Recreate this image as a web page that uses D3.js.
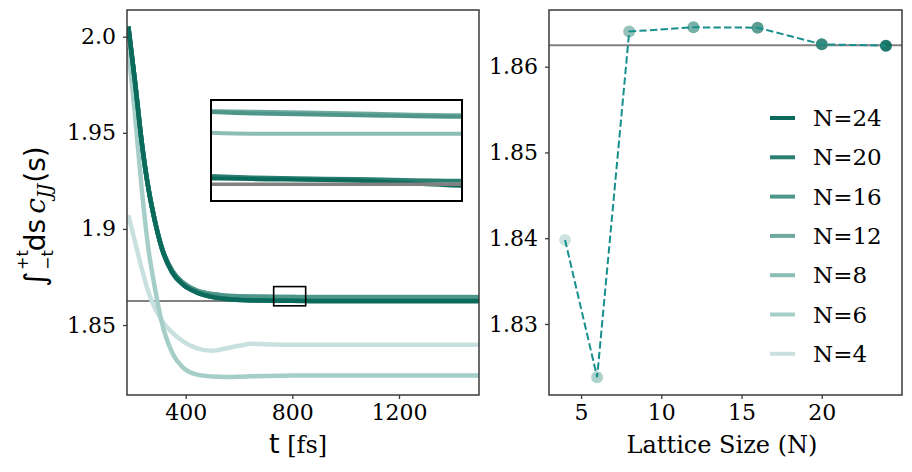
<!DOCTYPE html>
<html>
<head>
<meta charset="utf-8">
<script src="https://cdn.jsdelivr.net/npm/d3@7"></script>
<style>
    body { margin: 0; background: #fff; }
    svg { display: block; }
</style>
</head>
<body>
<svg id="chart" width="912" height="472"></svg>
<script>

// lattice sizes and the colour used for each of them
var latticeSizes = [4, 6, 8, 12, 16, 20, 24];
var seriesColors = ['#c9e1de', '#a6cec8', '#8cbdb5', '#6ea99f', '#4e958a', '#2b7f72', '#0a6b5c'];

// time samples [fs] for the running integral
var times = [185, 210, 235, 260, 285, 310, 350, 390, 440, 500, 550, 600, 650, 700, 750, 800, 850, 900, 1000, 1200, 1500];

var integralN4 = [1.9072, 1.8933, 1.8795, 1.8673, 1.8587, 1.8525, 1.8460, 1.8415, 1.8380, 1.8366, 1.8378, 1.8392, 1.8402, 1.8400, 1.8398, 1.8397, 1.8397, 1.8397, 1.8397, 1.8397, 1.8397];
var integralN6 = [1.9939, 1.9592, 1.9211, 1.8899, 1.8691, 1.8517, 1.8355, 1.8278, 1.8243, 1.8232, 1.8230, 1.8231, 1.8233, 1.8235, 1.8236, 1.8237, 1.8237, 1.8237, 1.8237, 1.8237, 1.8237];
var integralN8 = [2.0053, 1.9766, 1.9454, 1.9213, 1.9040, 1.8905, 1.8780, 1.8718, 1.8678, 1.8657, 1.8648, 1.8644, 1.8642, 1.8641, 1.8640, 1.8640, 1.8640, 1.8640, 1.8640, 1.8640, 1.8640];
var integralN12 = [2.0053, 1.9766, 1.9454, 1.9213, 1.9040, 1.8906, 1.8782, 1.8721, 1.8681, 1.8661, 1.8653, 1.8650, 1.8648, 1.8647, 1.86465, 1.8646, 1.86455, 1.8646, 1.8646, 1.8646, 1.8646];
var integralN16 = [2.0053, 1.9766, 1.9454, 1.9213, 1.9040, 1.8906, 1.8781, 1.8720, 1.8680, 1.8660, 1.8652, 1.8649, 1.8647, 1.8647, 1.8646, 1.86455, 1.8645, 1.8645, 1.8645, 1.8645, 1.8645];
var integralN20 = [2.0053, 1.9766, 1.9454, 1.9213, 1.9038, 1.8901, 1.8773, 1.8711, 1.8671, 1.8647, 1.8637, 1.8632, 1.8629, 1.8628, 1.8627, 1.86265, 1.8626, 1.8626, 1.8626, 1.8626, 1.8626];
var integralN24 = [2.0053, 1.9766, 1.9454, 1.9213, 1.9038, 1.8901, 1.8772, 1.8710, 1.8670, 1.8645, 1.8635, 1.8630, 1.8628, 1.8627, 1.86265, 1.8626, 1.86245, 1.8624, 1.8624, 1.8624, 1.8624];
var integralSeries = [integralN4, integralN6, integralN8, integralN12, integralN16, integralN20, integralN24];

// converged value of the integral for each lattice size
var convergedValues = [1.8398, 1.8238, 1.8641, 1.86459, 1.86455, 1.86261, 1.86245];
var referenceValue = 1.8625;

// ticks
var timeTicks = [400, 800, 1200];
var timeTickLabels = ['400', '800', '1200'];
var leftValueTicks = [1.85, 1.9, 1.95, 2.0];
var leftValueTickLabels = ['1.85', '1.9', '1.95', '2.0'];
var sizeTicks = [5, 10, 15, 20];
var sizeTickLabels = ['5', '10', '15', '20'];
var rightValueTicks = [1.83, 1.84, 1.85, 1.86];
var rightValueTickLabels = ['1.83', '1.84', '1.85', '1.86'];

// zoomed window shown in the inset
var zoomWindowTimes = [730, 850];
var zoomWindowValues = [1.86, 1.87];
var insetValueRange = [1.8620, 1.8650];

var sansFont = 'DejaVu Sans';
var serifFont = 'DejaVu Serif';
var spineColor = '#3a3a3a';

var svg = d3.select('#chart');

var left = {x0: 127, x1: 479, y0: 10, y1: 395};
var right = {x0: 549, x1: 902, y0: 10, y1: 395};
var inset = {x0: 211, x1: 462, y0: 100, y1: 201};

var xTime = d3.scaleLinear().domain([180, 1500]).range([left.x0, left.x1]);
var yLeft = d3.scaleLinear().domain([1.8136, 2.0139]).range([left.y1, left.y0]);
var xSize = d3.scaleLinear().domain([3, 25]).range([right.x0, right.x1]);
var yRight = d3.scaleLinear().domain([1.82172, 1.86661]).range([right.y1, right.y0]);
var xInset = d3.scaleLinear().domain(zoomWindowTimes).range([inset.x0, inset.x1]);
var yInset = d3.scaleLinear().domain(insetValueRange).range([inset.y1, inset.y0]);

var defs = svg.append('defs');
function addClip(id, box) {
    defs.append('clipPath').attr('id', id)
        .append('rect')
        .attr('x', box.x0).attr('y', box.y0)
        .attr('width', box.x1 - box.x0).attr('height', box.y1 - box.y0);
}
addClip('clip-left', left);
addClip('clip-right', right);
addClip('clip-inset', inset);

function styleAxis(g) {
    g.attr('font-family', serifFont).attr('font-size', 22);
    g.select('.domain').remove();
    g.selectAll('.tick line').attr('stroke', spineColor).attr('stroke-width', 1.3);
    g.selectAll('.tick text').attr('fill', '#000');
}

function drawFrame(box, color, width) {
    svg.append('rect')
        .attr('x', box.x0).attr('y', box.y0)
        .attr('width', box.x1 - box.x0).attr('height', box.y1 - box.y0)
        .attr('fill', 'none')
        .attr('stroke', color)
        .attr('stroke-width', width);
}

/* ---------- left panel: running integral vs time ---------- */

svg.append('g')
    .attr('transform', 'translate(0,' + left.y1 + ')')
    .call(d3.axisBottom(xTime).tickValues(timeTicks).tickSize(4).tickPadding(5)
        .tickFormat(function (d, i) { return timeTickLabels[i]; }))
    .call(styleAxis);

svg.append('g')
    .attr('transform', 'translate(' + left.x0 + ',0)')
    .call(d3.axisLeft(yLeft).tickValues(leftValueTicks).tickSize(4).tickPadding(7)
        .tickFormat(function (d, i) { return leftValueTickLabels[i]; }))
    .call(styleAxis);

var leftPlot = svg.append('g').attr('clip-path', 'url(#clip-left)');

leftPlot.append('line')
    .attr('x1', left.x0).attr('x2', left.x1)
    .attr('y1', yLeft(referenceValue)).attr('y2', yLeft(referenceValue))
    .attr('stroke', '#808080')
    .attr('stroke-width', 2);

function seriesLine(xs, ys) {
    return d3.line()
        .x(function (d, i) { return xs(times[i]); })
        .y(function (d) { return ys(d); })
        .curve(d3.curveMonotoneX);
}

leftPlot.selectAll('.curve')
    .data(integralSeries).enter()
    .append('path')
    .attr('class', 'curve')
    .attr('d', seriesLine(xTime, yLeft))
    .attr('fill', 'none')
    .attr('stroke', function (d, i) { return seriesColors[i]; })
    .attr('stroke-width', 4.5);

// rectangle marking the zoomed window
svg.append('rect')
    .attr('x', xTime(zoomWindowTimes[0]))
    .attr('y', yLeft(zoomWindowValues[1]))
    .attr('width', xTime(zoomWindowTimes[1]) - xTime(zoomWindowTimes[0]))
    .attr('height', yLeft(zoomWindowValues[0]) - yLeft(zoomWindowValues[1]))
    .attr('fill', 'none')
    .attr('stroke', '#000')
    .attr('stroke-width', 1.6);

drawFrame(left, spineColor, 1.5);

// inset
svg.append('rect')
    .attr('x', inset.x0).attr('y', inset.y0)
    .attr('width', inset.x1 - inset.x0).attr('height', inset.y1 - inset.y0)
    .attr('fill', '#fff');

var insetPlot = svg.append('g').attr('clip-path', 'url(#clip-inset)');

insetPlot.selectAll('.inset-curve')
    .data(integralSeries).enter()
    .append('path')
    .attr('class', 'inset-curve')
    .attr('d', seriesLine(xInset, yInset))
    .attr('fill', 'none')
    .attr('stroke', function (d, i) { return seriesColors[i]; })
    .attr('stroke-width', 4);

insetPlot.append('line')
    .attr('x1', inset.x0).attr('x2', inset.x1)
    .attr('y1', yInset(referenceValue)).attr('y2', yInset(referenceValue))
    .attr('stroke', '#808080')
    .attr('stroke-width', 3.5);

drawFrame(inset, '#000', 2);

// axis labels
var xLabel = svg.append('text')
    .attr('x', 298).attr('y', 453)
    .attr('text-anchor', 'middle');
xLabel.append('tspan').attr('font-family', sansFont).attr('font-size', 27).text('t');
xLabel.append('tspan').attr('font-family', serifFont).attr('font-size', 24).text(' [fs]');

// y label built piece by piece, each piece placed after the previous one
var yLabel = svg.append('text')
    .attr('transform', 'translate(45,287) rotate(-90)')
    .attr('font-family', sansFont)
    .attr('fill', '#000');

var cursor = 0;
function labelPiece(text, size, shift, opts) {
    opts = opts || {};
    var piece = yLabel.append('tspan')
        .attr('x', cursor + (opts.gap || 0))
        .attr('y', shift)
        .attr('font-size', size)
        .text(text);
    if (opts.italic) {
        piece.attr('font-style', 'italic').attr('font-family', 'DejaVu Serif');
    }
    var w = piece.node().getComputedTextLength();
    if (!opts.stay) {
        cursor += (opts.gap || 0) + w;
    }
    return w;
}
labelPiece('\u222B', 29, 0);
cursor += 2;
labelPiece('+t', 16, -17, {stay: true});
labelPiece('\u2212t', 16, 8);
labelPiece('ds', 28, 0, {gap: -1});
labelPiece('c', 28, 0, {gap: 5, italic: true});
labelPiece('JJ', 18, 6, {italic: true});
labelPiece('(s)', 28, 0, {gap: 1});

/* ---------- right panel: converged value vs lattice size ---------- */

svg.append('g')
    .attr('transform', 'translate(0,' + right.y1 + ')')
    .call(d3.axisBottom(xSize).tickValues(sizeTicks).tickSize(4).tickPadding(5)
        .tickFormat(function (d, i) { return sizeTickLabels[i]; }))
    .call(styleAxis);

svg.append('g')
    .attr('transform', 'translate(' + right.x0 + ',0)')
    .call(d3.axisLeft(yRight).tickValues(rightValueTicks).tickSize(4).tickPadding(7)
        .tickFormat(function (d, i) { return rightValueTickLabels[i]; }))
    .call(styleAxis);

var rightPlot = svg.append('g').attr('clip-path', 'url(#clip-right)');

rightPlot.append('line')
    .attr('x1', right.x0).attr('x2', right.x1)
    .attr('y1', yRight(referenceValue)).attr('y2', yRight(referenceValue))
    .attr('stroke', '#808080')
    .attr('stroke-width', 2.2);

rightPlot.selectAll('.marker')
    .data(convergedValues).enter()
    .append('circle')
    .attr('class', 'marker')
    .attr('cx', function (d, i) { return xSize(latticeSizes[i]); })
    .attr('cy', function (d) { return yRight(d); })
    .attr('r', 6)
    .attr('fill', function (d, i) { return seriesColors[i]; })
    .attr('fill-opacity', 0.92);

rightPlot.append('path')
    .datum(convergedValues)
    .attr('d', d3.line()
        .x(function (d, i) { return xSize(latticeSizes[i]); })
        .y(function (d) { return yRight(d); }))
    .attr('fill', 'none')
    .attr('stroke', '#17908d')
    .attr('stroke-width', 2)
    .attr('stroke-dasharray', '7.4,3.2');

drawFrame(right, spineColor, 1.5);

svg.append('text')
    .attr('x', 722).attr('y', 453)
    .attr('text-anchor', 'middle')
    .attr('font-family', serifFont)
    .attr('font-size', 24)
    .text('Lattice Size (N)');

// legend, largest lattice first
var legendRows = latticeSizes.map(function (n, i) {
    return {label: 'N=' + n, color: seriesColors[i]};
}).reverse();

var legend = svg.append('g').attr('class', 'legend');
var legendItems = legend.selectAll('.legend-item')
    .data(legendRows).enter()
    .append('g')
    .attr('class', 'legend-item')
    .attr('transform', function (d, i) {
        return 'translate(770,' + (118 + i * 39.3) + ')';
    });

legendItems.append('line')
    .attr('x1', 0).attr('x2', 25)
    .attr('stroke', function (d) { return d.color; })
    .attr('stroke-width', 4);

legendItems.append('text')
    .attr('x', 43)
    .attr('dy', '0.35em')
    .attr('font-family', serifFont)
    .attr('font-size', 23)
    .text(function (d) { return d.label; });

</script>
</body>
</html>
